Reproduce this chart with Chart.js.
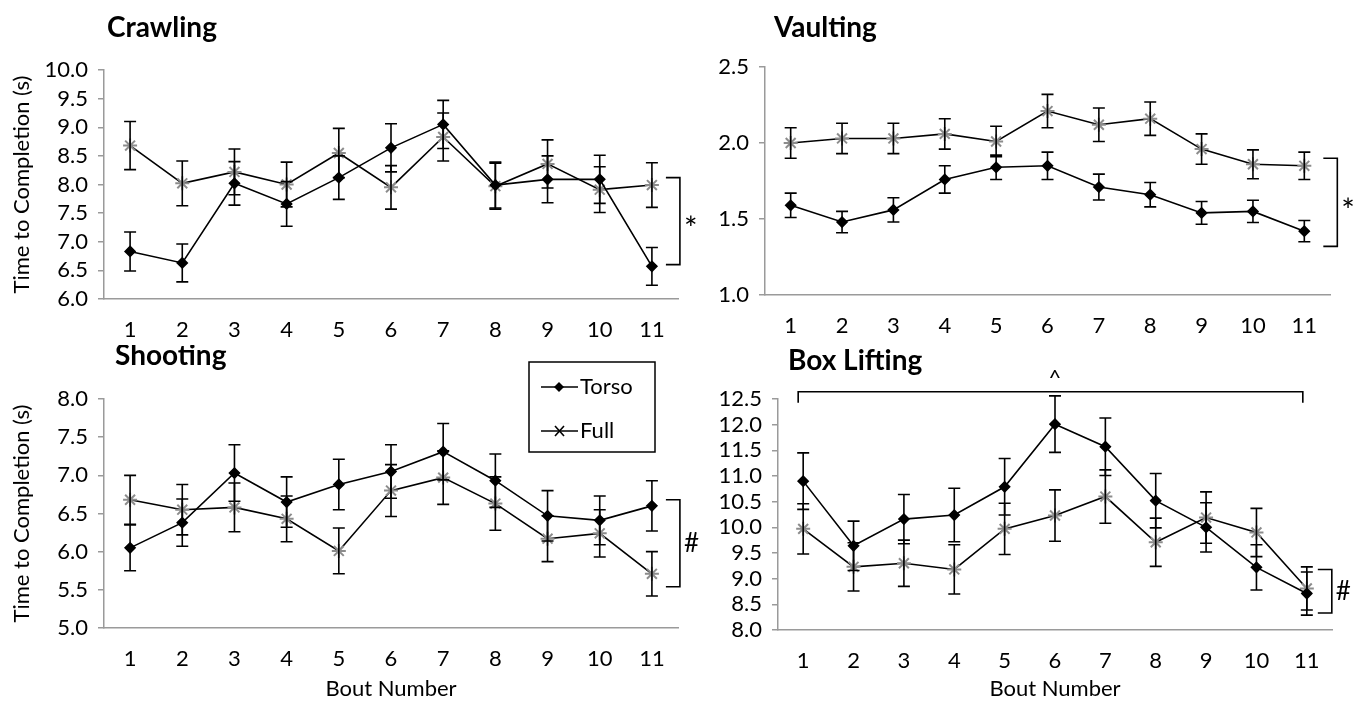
<!DOCTYPE html>
<html>
<head>
<meta charset="utf-8">
<script src="https://cdn.jsdelivr.net/npm/chart.js@4.4.0/dist/chart.umd.min.js"></script>
<style>
  body { margin: 0; background: #fff; width: 1354px; height: 705px; position: relative; overflow: hidden; }
  .panel { position: absolute; }
</style>
</head>
<body>
<div class="panel" style="left:0;top:0"><canvas id="crawl" width="700" height="345"></canvas></div>
<div class="panel" style="left:700px;top:0"><canvas id="vault" width="654" height="345"></canvas></div>
<div class="panel" style="left:0;top:345px"><canvas id="shoot" width="700" height="360"></canvas></div>
<div class="panel" style="left:700px;top:345px"><canvas id="box" width="654" height="360"></canvas></div>
<script>
const bouts = ['1', '2', '3', '4', '5', '6', '7', '8', '9', '10', '11'];

// Crawling
const crawlTorso    = [6.83, 6.63, 8.02, 7.66, 8.12, 8.64, 9.05, 7.99, 8.09, 8.09, 6.57];
const crawlTorsoErr = [0.34, 0.33, 0.38, 0.39, 0.38, 0.42, 0.42, 0.40, 0.41, 0.42, 0.33];
const crawlFull     = [8.68, 8.02, 8.22, 8.00, 8.55, 7.95, 8.83, 7.97, 8.36, 7.91, 7.99];
const crawlFullErr  = [0.42, 0.39, 0.40, 0.39, 0.43, 0.38, 0.42, 0.40, 0.42, 0.40, 0.39];

// Vaulting
const vaultTorso    = [1.59, 1.48, 1.56, 1.76, 1.84, 1.85, 1.71, 1.66, 1.54, 1.55, 1.42];
const vaultTorsoErr = [0.08, 0.07, 0.08, 0.09, 0.08, 0.09, 0.085, 0.08, 0.075, 0.073, 0.07];
const vaultFull     = [2.00, 2.03, 2.03, 2.06, 2.01, 2.21, 2.12, 2.16, 1.96, 1.86, 1.85];
const vaultFullErr  = [0.10, 0.10, 0.10, 0.10, 0.10, 0.11, 0.11, 0.11, 0.10, 0.095, 0.09];

// Shooting
const shootTorso    = [6.05, 6.38, 7.03, 6.65, 6.88, 7.05, 7.31, 6.93, 6.47, 6.41, 6.60];
const shootTorsoErr = [0.30, 0.31, 0.37, 0.33, 0.33, 0.35, 0.37, 0.35, 0.33, 0.32, 0.33];
const shootFull     = [6.68, 6.55, 6.58, 6.43, 6.01, 6.80, 6.97, 6.63, 6.17, 6.24, 5.71];
const shootFullErr  = [0.32, 0.33, 0.32, 0.30, 0.30, 0.34, 0.35, 0.35, 0.30, 0.31, 0.29];

// Box lifting
const boxTorso    = [10.90, 9.64, 10.16, 10.24, 10.79, 12.01, 11.57, 10.52, 10.00, 9.22, 8.71];
const boxTorsoErr = [0.55, 0.48, 0.48, 0.52, 0.55, 0.55, 0.56, 0.53, 0.48, 0.44, 0.42];
const boxFull     = [9.97, 9.23, 9.30, 9.18, 9.97, 10.23, 10.60, 9.71, 10.19, 9.90, 8.81];
const boxFullErr  = [0.49, 0.47, 0.45, 0.48, 0.50, 0.50, 0.52, 0.47, 0.50, 0.47, 0.42];

// significance brackets (top value, bottom value)
const crawlBracket = [8.12, 6.60];
const vaultBracket = [1.90, 1.32];
const shootBracket = [6.68, 5.54];
const boxBracket   = [9.18, 8.33];
const boxTopBracket = 12.64;

const FONT = 'Lato, "Open Sans", sans-serif';
const AXIS_GREY = '#9a9a9a';

function drawLegend(ctx) {
    // legend box sits inside the Shooting panel
    ctx.save();
    ctx.strokeStyle = '#000';
    ctx.lineWidth = 1.5;
    ctx.strokeRect(529, 17, 126, 90);
    ctx.lineWidth = 1.6;
    [42, 86].forEach((ly, i) => {
        ctx.beginPath();
        ctx.moveTo(541, ly); ctx.lineTo(578, ly);
        ctx.stroke();
        ctx.beginPath();
        if (i == 0) {
            ctx.moveTo(559, ly - 5); ctx.lineTo(564, ly); ctx.lineTo(559, ly + 5); ctx.lineTo(554, ly);
            ctx.closePath();
            ctx.fillStyle = '#000';
            ctx.fill();
        } else {
            ctx.moveTo(555, ly - 5); ctx.lineTo(564, ly + 5);
            ctx.moveTo(564, ly - 5); ctx.lineTo(555, ly + 5);
            ctx.stroke();
        }
    });
    ctx.fillStyle = '#000';
    ctx.font = '22px ' + FONT;
    ctx.textBaseline = 'middle';
    ctx.fillText('Torso', 580, 42);
    ctx.fillText('Full', 580, 86);
    ctx.restore();
}

function makePanel(id, o) {
    const annot = {
        id: 'annot',
        afterDatasetsDraw(chart) {
            const ctx = chart.ctx, xs = chart.scales.x, ys = chart.scales.y;
            ctx.save();
            ctx.strokeStyle = '#000';
            ctx.lineWidth = 1.6;
            // error bars
            [o.torsoErr, o.fullErr].forEach((errs, di) => {
                chart.data.datasets[di].data.forEach((v, i) => {
                    const px = xs.getPixelForValue(i);
                    const top = ys.getPixelForValue(v + errs[i]);
                    const bot = ys.getPixelForValue(v - errs[i]);
                    ctx.beginPath();
                    ctx.moveTo(px, top); ctx.lineTo(px, bot);
                    ctx.moveTo(px - 6, top); ctx.lineTo(px + 6, top);
                    ctx.moveTo(px - 6, bot); ctx.lineTo(px + 6, bot);
                    ctx.stroke();
                });
            });
            // right hand bracket
            const bx = xs.getPixelForValue(10) + o.bracketDx;
            const y1 = ys.getPixelForValue(o.bracket[0]), y2 = ys.getPixelForValue(o.bracket[1]);
            ctx.beginPath();
            ctx.moveTo(bx - 14, y1); ctx.lineTo(bx, y1); ctx.lineTo(bx, y2); ctx.lineTo(bx - 14, y2);
            ctx.stroke();
            ctx.fillStyle = '#000';
            ctx.textBaseline = 'middle';
            if (o.mark == '*') {
                ctx.font = '32px ' + FONT;
                ctx.fillText('*', bx + 4, (y1 + y2) / 2 + 9);
            } else {
                ctx.font = '26px ' + FONT;
                ctx.fillText('#', bx + 4, (y1 + y2) / 2);
            }
            // top bracket (box lifting only)
            if (o.topBracket) {
                const tx1 = xs.getPixelForValue(0) - 5, tx2 = xs.getPixelForValue(10) - 4;
                const ty = ys.getPixelForValue(o.topBracket);
                ctx.beginPath();
                ctx.moveTo(tx1, ty + 11); ctx.lineTo(tx1, ty); ctx.lineTo(tx2, ty); ctx.lineTo(tx2, ty + 11);
                ctx.stroke();
                ctx.textAlign = 'center';
                ctx.font = '22px ' + FONT;
                ctx.fillText('^', xs.getPixelForValue(5), ty - 14);
            }
            ctx.restore();
        },
        afterDraw(chart) {
            const ctx = chart.ctx;
            ctx.save();
            ctx.fillStyle = '#000';
            ctx.font = 'bold 28px ' + FONT;
            ctx.textBaseline = 'alphabetic';
            ctx.fillText(o.title, o.titleX, o.titleY);
            ctx.restore();
            if (o.legend) drawLegend(ctx);
        }
    };

    return new Chart(document.getElementById(id), {
        type: 'line',
        data: {
            labels: bouts,
            datasets: [{
                label: 'Torso',
                data: o.torso,
                borderColor: '#000',
                borderWidth: 1.6,
                pointStyle: 'rectRot',
                pointRadius: 5,
                pointBackgroundColor: '#000',
                pointBorderColor: '#000',
                tension: 0
            }, {
                label: 'Full',
                data: o.full,
                borderColor: '#000',
                borderWidth: 1.6,
                pointStyle: 'star',
                pointRadius: 7,
                pointBorderWidth: 2,
                pointBorderColor: '#8c8c8c',
                pointBackgroundColor: '#8c8c8c',
                tension: 0
            }]
        },
        options: {
            responsive: false,
            animation: false,
            layout: { padding: o.pad },
            plugins: { legend: { display: false }, tooltip: { enabled: false } },
            scales: {
                x: {
                    offset: true,
                    grid: { display: false },
                    border: { display: true, color: AXIS_GREY, width: 1.5 },
                    ticks: { color: '#000', font: { family: FONT, size: 22 }, padding: 10 },
                    title: {
                        display: o.xTitle, text: 'Bout Number', color: '#000',
                        font: { family: FONT, size: 22 }, padding: { top: 0, bottom: 1 }
                    },
                    afterFit(s) { s.height = o.xh; }
                },
                y: {
                    min: o.min, max: o.max,
                    ticks: { stepSize: 0.5, autoSkip: false, color: '#000', font: { family: FONT, size: 22 },
                             padding: 10, callback: v => v.toFixed(1) },
                    grid: { drawOnChartArea: false, tickLength: 6, color: AXIS_GREY, lineWidth: 1.5 },
                    border: { color: AXIS_GREY, width: 1.5 },
                    title: {
                        display: o.yTitle, text: 'Time to Completion (s)', color: '#000',
                        font: { family: FONT, size: 22 }, padding: { top: 9, bottom: 0 }
                    },
                    afterFit(s) { s.width = o.yw; }
                }
            }
        },
        plugins: [annot]
    });
}

makePanel('crawl', {
    title: 'Crawling', titleX: 107, titleY: 37,
    torso: crawlTorso, torsoErr: crawlTorsoErr, full: crawlFull, fullErr: crawlFullErr,
    min: 6, max: 10, yw: 104, xh: 40, pad: { top: 70, left: 0, right: 22, bottom: 6 },
    yTitle: true, xTitle: false, bracket: crawlBracket, bracketDx: 28, mark: '*'
});
makePanel('vault', {
    title: 'Vaulting', titleX: 74, titleY: 37,
    torso: vaultTorso, torsoErr: vaultTorsoErr, full: vaultFull, fullErr: vaultFullErr,
    min: 1, max: 2.5, yw: 65, xh: 40, pad: { top: 67, left: 0, right: 24, bottom: 10 },
    yTitle: false, xTitle: false, bracket: vaultBracket, bracketDx: 33, mark: '*'
});
makePanel('shoot', {
    title: 'Shooting', titleX: 115, titleY: 20, legend: true,
    torso: shootTorso, torsoErr: shootTorsoErr, full: shootFull, fullErr: shootFullErr,
    min: 5, max: 8, yw: 104, xh: 75, pad: { top: 54, left: 0, right: 22, bottom: 2 },
    yTitle: true, xTitle: true, bracket: shootBracket, bracketDx: 28, mark: '#'
});
makePanel('box', {
    title: 'Box Lifting', titleX: 88, titleY: 25,
    torso: boxTorso, torsoErr: boxTorsoErr, full: boxFull, fullErr: boxFullErr,
    min: 8, max: 12.5, yw: 78, xh: 73, pad: { top: 54, left: 0, right: 22, bottom: 2 },
    yTitle: false, xTitle: true, bracket: boxBracket, bracketDx: 25, mark: '#',
    topBracket: boxTopBracket
});
</script>
</body>
</html>
